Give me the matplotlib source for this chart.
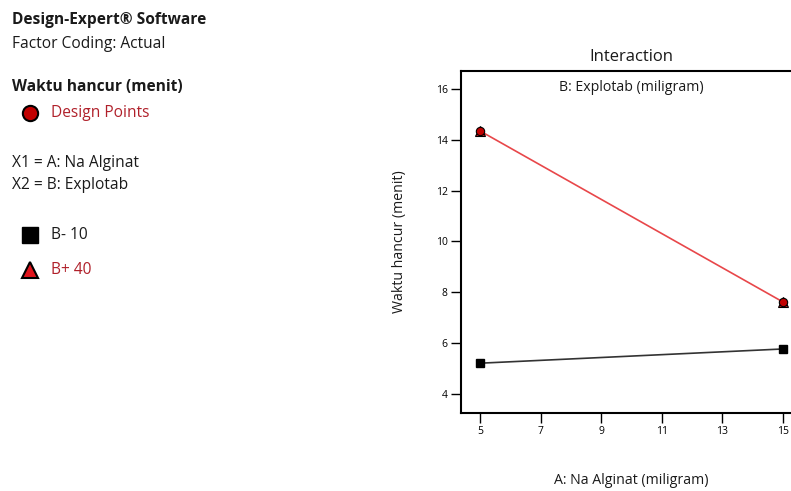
import matplotlib
matplotlib.use("Agg")
import matplotlib.pyplot as plt

plt.rcParams['font.family'] = ['Open Sans', 'DejaVu Sans']

# Factor A levels and predicted response for each B level
na_alginat = [5, 15]
b_low_values = [5.21, 5.77]     # B- 10
b_high_values = [14.35, 7.62]   # B+ 40
xticks = [5, 7, 9, 11, 13, 15]
yticks = [4, 6, 8, 10, 12, 14, 16]

W, H = 791, 491
fig = plt.figure(figsize=(W / 100, H / 100), dpi=100)

def px(x, y):
    return x / W, 1 - y / H

red_line = '#e8474a'
red_fill = '#e0141c'
dark_red = '#b0202a'
text_col = '#1a1a1a'
fs = 11.2

# Left-hand description panel
fig.text(*px(12, 20), 'Design-Expert® Software', fontsize=fs, fontweight='bold', va='center', color=text_col)
fig.text(*px(12, 44), 'Factor Coding: Actual', fontsize=fs, va='center', color=text_col)
fig.text(*px(12, 87), 'Waktu hancur (menit)', fontsize=fs, fontweight='bold', va='center', color=text_col)
fig.text(*px(51, 113), 'Design Points', fontsize=fs, color=dark_red, va='center')
fig.text(*px(12, 163), 'X1 = A: Na Alginat', fontsize=fs, va='center', color=text_col)
fig.text(*px(12, 185), 'X2 = B: Explotab', fontsize=fs, va='center', color=text_col)
fig.text(*px(51, 235), 'B- 10', fontsize=fs, color=text_col, va='center')
fig.text(*px(51, 270), 'B+ 40', fontsize=fs, color=dark_red, va='center')

legend_ax = fig.add_axes([0, 0, 1, 1], zorder=-1)
legend_ax.set_xlim(0, W)
legend_ax.set_ylim(H, 0)
legend_ax.axis('off')
legend_ax.plot([30], [113], 'o', ms=11, mfc='#c00000', mec='black', mew=1.5)
legend_ax.plot([30], [235], 's', ms=11, mfc='black', mec='black')
legend_ax.plot([30], [270], '^', ms=12, mfc=red_fill, mec='black', mew=1.5)

# Interaction plot
left, right, top, bottom = 461, 802, 71, 413
ax = fig.add_axes([left / W, 1 - bottom / H, (right - left) / W, (bottom - top) / H])
ax.plot(na_alginat, b_low_values, color='#333333', lw=1.2, marker='s', ms=6,
        mfc='black', mec='black', zorder=3)
ax.plot(na_alginat, b_high_values, color=red_line, lw=1.2, marker='^', ms=7,
        mfc=red_fill, mec='black', mew=0.8, zorder=3)
ax.plot(na_alginat, b_high_values, 'o', ms=6, mfc='#c00000', mec='black', mew=0.8, zorder=4)

ax.set_xlim(4.37, 15.63)
ax.set_ylim(3.25, 16.71)
ax.set_xticks(xticks)
ax.set_yticks(yticks)
ax.tick_params(direction='out', length=7, width=1, labelsize=7.5, colors='black', pad=2.5)
for s in ax.spines.values():
    s.set_linewidth(1.5)
ax.text(0.5, 0.952, 'B: Explotab (miligram)', transform=ax.transAxes,
        ha='center', va='center', fontsize=10.2, color=text_col)

fig.text(*px(399, 242), 'Waktu hancur (menit)', fontsize=10.2, rotation=90,
         ha='center', va='center', color=text_col)
fig.text(*px(631, 57), 'Interaction', fontsize=12, ha='center', va='center', color=text_col)
fig.text(*px(631, 481), 'A: Na Alginat (miligram)', fontsize=10.2, ha='center', va='center', color=text_col)

fig.savefig('out.png', dpi=100)
